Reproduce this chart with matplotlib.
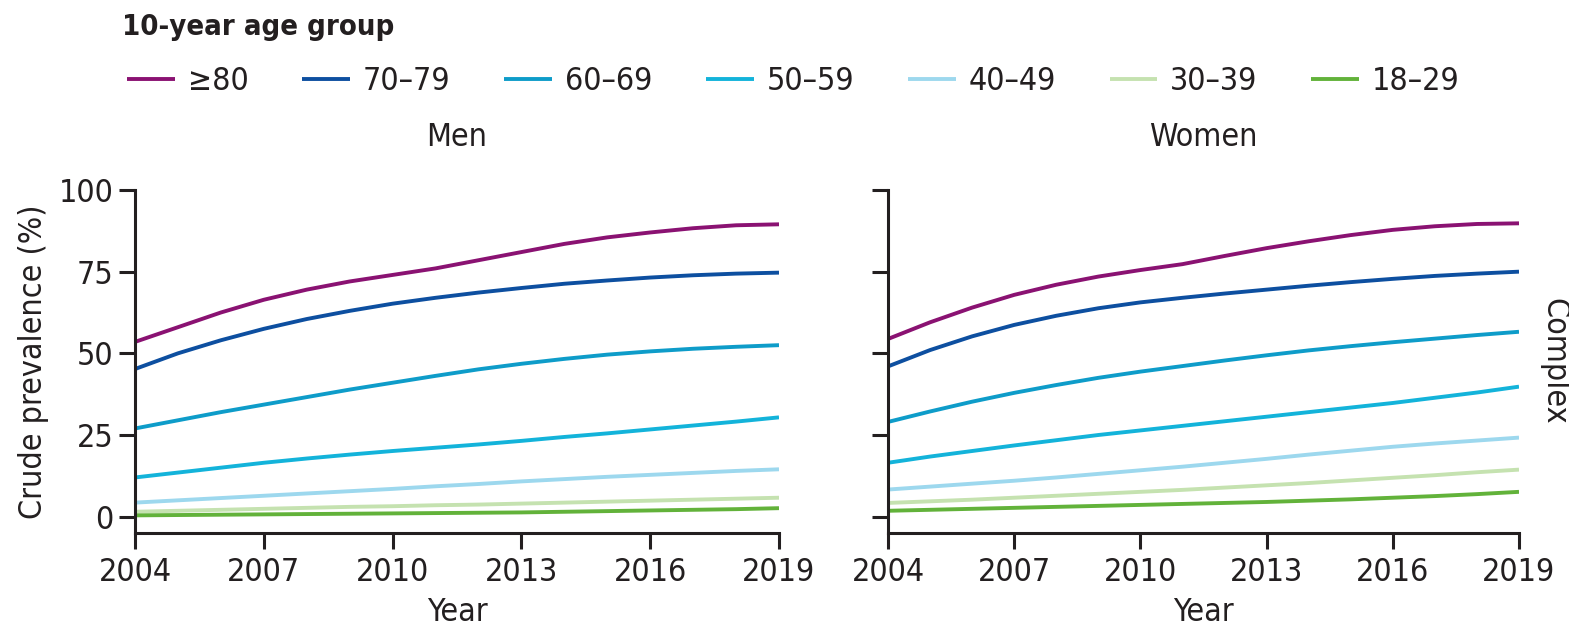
import matplotlib
matplotlib.use('Agg')
import matplotlib.pyplot as plt

plt.rcParams['font.family'] = ['DejaVu Sans']
plt.rcParams['font.stretch'] = 'condensed'

years = list(range(2004, 2020))
groups = ['≥80', '70–79', '60–69', '50–59', '40–49', '30–39', '18–29']
colors = ['#8a1272', '#0d4fa0', '#0e9cc9', '#13b3da', '#9dd8ee', '#c5e2b0', '#62b23a']

# crude prevalence (%) per age group, men
men = [
    [53.5, 58, 62.5, 66.4, 69.5, 72, 74, 76, 78.5, 81, 83.5, 85.5, 87, 88.3, 89.2, 89.5],
    [45.2, 50, 54, 57.5, 60.5, 63, 65.2, 67, 68.6, 70, 71.3, 72.3, 73.2, 73.9, 74.4, 74.7],
    [27, 29.5, 32, 34.3, 36.6, 38.9, 41, 43.1, 45.1, 46.8, 48.3, 49.6, 50.6, 51.4, 52, 52.5],
    [12, 13.5, 15, 16.5, 17.8, 19, 20.1, 21.1, 22.1, 23.2, 24.4, 25.5, 26.7, 27.9, 29.1, 30.4],
    [4.3, 5, 5.7, 6.4, 7.1, 7.8, 8.5, 9.3, 10, 10.8, 11.5, 12.2, 12.8, 13.4, 14, 14.5],
    [1.5, 1.8, 2.1, 2.4, 2.7, 3, 3.2, 3.5, 3.7, 4, 4.3, 4.6, 4.9, 5.2, 5.5, 5.8],
    [0.4, 0.5, 0.6, 0.7, 0.8, 0.9, 1.0, 1.1, 1.2, 1.3, 1.5, 1.7, 1.9, 2.1, 2.3, 2.6],
]

# women
women = [
    [54.4, 59.5, 64, 67.9, 71, 73.5, 75.5, 77.3, 79.8, 82.2, 84.3, 86.2, 87.8, 88.9, 89.6, 89.8],
    [46, 51, 55.2, 58.7, 61.5, 63.8, 65.6, 67, 68.3, 69.5, 70.7, 71.8, 72.8, 73.7, 74.4, 75],
    [29, 32.2, 35.2, 37.9, 40.3, 42.5, 44.4, 46.1, 47.8, 49.4, 50.9, 52.2, 53.4, 54.5, 55.6, 56.6],
    [16.5, 18.4, 20.1, 21.8, 23.4, 25, 26.4, 27.8, 29.2, 30.6, 32, 33.4, 34.8, 36.4, 38, 39.8],
    [8.3, 9.2, 10.1, 11.0, 12, 13.1, 14.2, 15.3, 16.5, 17.7, 19, 20.2, 21.4, 22.4, 23.3, 24.2],
    [4.2, 4.7, 5.2, 5.8, 6.4, 7, 7.6, 8.2, 8.9, 9.6, 10.3, 11.1, 11.9, 12.7, 13.6, 14.4],
    [1.8, 2.1, 2.4, 2.7, 3.0, 3.3, 3.6, 3.9, 4.2, 4.5, 4.9, 5.3, 5.8, 6.3, 6.9, 7.6],
]

xticks = [2004, 2007, 2010, 2013, 2016, 2019]
yticks = [0, 25, 50, 75, 100]
ink = '#231f20'
W, H = 1569, 631
fs = 23

fig = plt.figure(figsize=(W / 100, H / 100), dpi=100)
ax1 = fig.add_axes([135 / W, (H - 533) / H, 644 / W, 343 / H])
ax2 = fig.add_axes([888 / W, (H - 533) / H, 631 / W, 343 / H])

for ax, data, title in [(ax1, men, 'Men'), (ax2, women, 'Women')]:
    for vals, c, g in zip(data, colors, groups):
        ax.plot(years, vals, color=c, lw=2.8, label=g, solid_capstyle='butt')
    ax.set_xlim(2004, 2019)
    ax.set_ylim(-5, 100)
    ax.set_xticks(xticks)
    ax.set_yticks(yticks)
    for s in ['top', 'right']:
        ax.spines[s].set_visible(False)
    for s in ['left', 'bottom']:
        ax.spines[s].set_linewidth(2.2)
        ax.spines[s].set_color(ink)
    ax.tick_params(length=11.5, width=2.2, color=ink, labelsize=fs, labelcolor=ink)
    ax.tick_params(axis='x', pad=6)
    ax.tick_params(axis='y', pad=4)
    ax.set_xlabel('Year', fontsize=fs, color=ink, labelpad=6)
    ax.set_title(title, fontsize=fs, color=ink, pad=32)

ax1.set_ylabel('Crude prevalence (%)', fontsize=fs, color=ink, labelpad=7)
ax2.set_yticklabels([])
fig.text(1554 / W, 0.5 * (1 - 190 / H + 1 - 533 / H), 'Complex', rotation=-90,
         fontsize=fs, color=ink, ha='center', va='center')

fig.text(122 / W, 1 - 27 / H, '10-year age group', fontsize=21, fontweight='bold',
         color=ink, ha='left', va='center')
handles, labels = ax1.get_legend_handles_labels()
fig.legend(handles, labels, loc='center left', bbox_to_anchor=(127 / W, 1 - 82 / H),
           ncol=7, frameon=False, fontsize=fs, borderpad=0, borderaxespad=0,
           handlelength=1.5, handletextpad=0.4, columnspacing=1.68, labelcolor=ink)

fig.savefig('out.png', dpi=100)
